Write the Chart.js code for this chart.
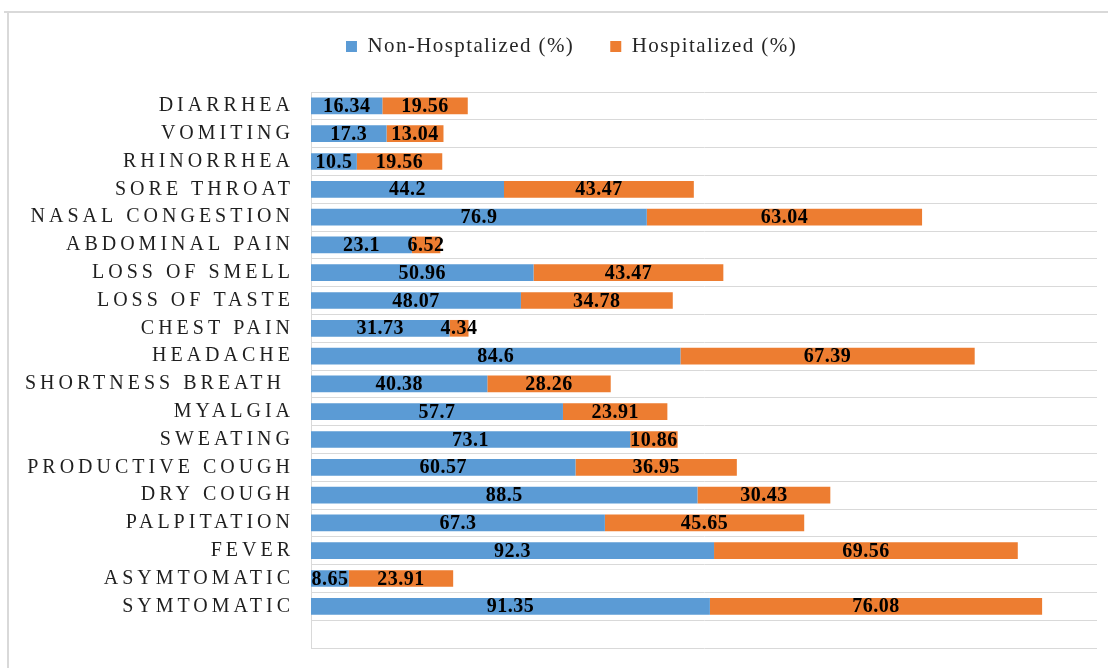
<!DOCTYPE html>
<html>
<head>
<meta charset="utf-8">
<script src="https://cdn.jsdelivr.net/npm/chart.js@4.4.1/dist/chart.umd.min.js"></script>
<style>
  html, body { margin: 0; padding: 0; background: #ffffff; overflow: hidden; }
  #c { display: block; }
</style>
</head>
<body>
<canvas id="c" width="1108" height="668"></canvas>
<script>
// Symptom categories, listed top to bottom
const symptoms = [
  'DIARRHEA', 'VOMITING', 'RHINORRHEA', 'SORE THROAT', 'NASAL CONGESTION',
  'ABDOMINAL PAIN', 'LOSS OF SMELL', 'LOSS OF TASTE', 'CHEST PAIN', 'HEADACHE',
  'SHORTNESS BREATH ', 'MYALGIA', 'SWEATING', 'PRODUCTIVE COUGH', 'DRY COUGH',
  'PALPITATION', 'FEVER', 'ASYMTOMATIC', 'SYMTOMATIC'
];

// Share of patients (%) reporting each symptom
const nonHospitalized = [
  16.34, 17.3, 10.5, 44.2, 76.9,
  23.1, 50.96, 48.07, 31.73, 84.6,
  40.38, 57.7, 73.1, 60.57, 88.5,
  67.3, 92.3, 8.65, 91.35
];
const hospitalized = [
  19.56, 13.04, 19.56, 43.47, 63.04,
  6.52, 43.47, 34.78, 4.34, 67.39,
  28.26, 23.91, 10.86, 36.95, 30.43,
  45.65, 69.56, 23.91, 76.08
];

const seriesNames = ['Non-Hosptalized (%)', 'Hospitalized (%)'];
const seriesColors = ['#5B9BD5', '#ED7D31'];

const SERIF = '"Liberation Serif", "Times New Roman", serif';

// Outer frame, text spacing, legend spacing and the value printed in each bar segment
const decorations = {
  id: 'decorations',
  beforeLayout(chart) {
    chart.ctx.letterSpacing = '1.4px';
    const legend = chart.legend;
    if (legend && !legend._tuned) {
      const fit = legend.fit;
      legend.fit = function () {
        fit.call(this);
        this.height += 25;   // gap between the legend row and the plot
      };
      const draw = legend.draw;
      legend.draw = function () {
        const c = this.ctx;
        c.save();
        c.letterSpacing = '1.4px';
        c.translate(23, 0);
        draw.call(this);
        c.restore();
      };
      legend._tuned = true;
    }
  },
  beforeDraw(chart) {
    const ctx = chart.ctx;
    ctx.letterSpacing = '1.4px';
    ctx.save();
    ctx.strokeStyle = '#d9d9d9';
    ctx.lineWidth = 2;
    ctx.beginPath();
    ctx.moveTo(4, 12);
    ctx.lineTo(chart.width, 12);
    ctx.moveTo(8, 12);
    ctx.lineTo(8, chart.height);
    ctx.stroke();
    ctx.restore();

    const yScale = chart.scales.y;
    if (yScale && !yScale._spacedLabels) {
      const drawLabels = yScale.drawLabels;
      yScale.drawLabels = function (area) {
        const c = this.ctx;
        const prev = c.letterSpacing;
        c.letterSpacing = '4px';
        drawLabels.call(this, area);
        c.letterSpacing = prev;
      };
      yScale._spacedLabels = true;
    }
  },
  afterDatasetsDraw(chart) {
    const ctx = chart.ctx;
    ctx.save();
    ctx.font = 'bold 20px ' + SERIF;
    ctx.fillStyle = '#000000';
    ctx.textAlign = 'center';
    ctx.textBaseline = 'middle';
    ctx.letterSpacing = '0.5px';
    chart.data.datasets.forEach((ds, i) => {
      const meta = chart.getDatasetMeta(i);
      meta.data.forEach((bar, j) => {
        const v = ds.data[j];
        if (v === null || v === undefined) return;
        const p = bar.getProps(['x', 'y', 'base'], true);
        ctx.fillText(String(v), (p.x + p.base) / 2, p.y + 1);
      });
    });
    ctx.restore();
  }
};

new Chart(document.getElementById('c'), {
  type: 'bar',
  data: {
    // a blank slot below the last category leaves an empty band at the bottom
    labels: [...symptoms, ''],
    datasets: [
      {
        label: seriesNames[0],
        data: [...nonHospitalized, null],
        backgroundColor: seriesColors[0],
        borderWidth: 0,
        barPercentage: 0.6,
        categoryPercentage: 1.0
      },
      {
        label: seriesNames[1],
        data: [...hospitalized, null],
        backgroundColor: seriesColors[1],
        borderWidth: 0,
        barPercentage: 0.6,
        categoryPercentage: 1.0
      }
    ]
  },
  options: {
    indexAxis: 'y',
    responsive: false,
    animation: false,
    devicePixelRatio: 1,
    layout: { padding: { top: 0, right: 11, bottom: 20, left: 0 } },
    plugins: {
      legend: {
        position: 'top',
        align: 'center',
        labels: {
          boxWidth: 11,
          boxHeight: 11,
          padding: 36,
          color: '#262626',
          font: { family: SERIF, size: 21 }
        }
      },
      tooltip: { enabled: false }
    },
    scales: {
      x: {
        stacked: true,
        min: 0,
        max: 180,
        display: false
      },
      y: {
        stacked: true,
        afterFit(scale) {
          scale.width = 311;
          scale.paddingTop = 0;
          scale.paddingBottom = 0;
        },
        grid: {
          offset: true,
          color: '#d9d9d9',
          lineWidth: 1,
          drawTicks: false
        },
        border: { display: true, color: '#d9d9d9', width: 1 },
        ticks: {
          padding: 17,
          color: '#1f1f1f',
          font: { family: SERIF, size: 20 }
        }
      }
    }
  },
  plugins: [decorations]
});
</script>
</body>
</html>
